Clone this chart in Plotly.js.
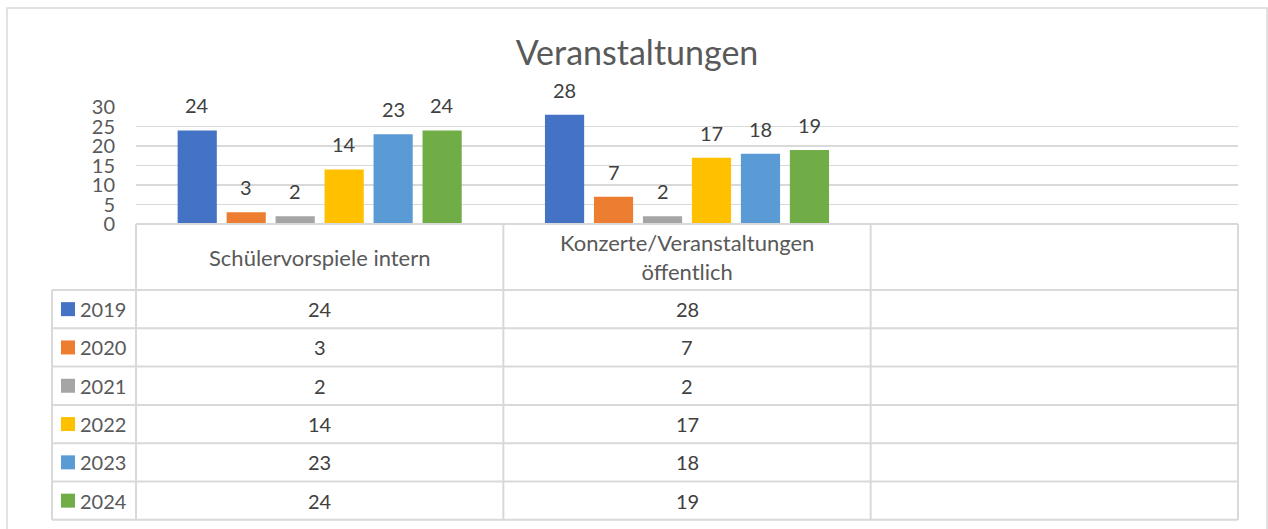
<!DOCTYPE html>
<html>
<head>
<meta charset="utf-8">
<script src="https://cdn.plot.ly/plotly-3.0.1.min.js"></script>
<style>html,body{margin:0;padding:0;background:#fff;}#chart{width:1268px;height:529px;}</style>
</head>
<body>
<div id="chart"></div>
<script>
// ---- data ----
const categories = ['Schülervorspiele intern', 'Konzerte/Veranstaltungen<br>öffentlich', ''];
const years = ['2019', '2020', '2021', '2022', '2023', '2024'];
const v2019 = [24, 28];
const v2020 = [3, 7];
const v2021 = [2, 2];
const v2022 = [14, 17];
const v2023 = [23, 18];
const v2024 = [24, 19];
const seriesValues = [v2019, v2020, v2021, v2022, v2023, v2024];
const colors = ['#4472C4', '#ED7D31', '#A5A5A5', '#FFC000', '#5B9BD5', '#70AD47'];
const yTicks = [0, 5, 10, 15, 20, 25, 30];

// ---- layout geometry (pixels) ----
const W = 1268, H = 529;
const plotL = 136, plotR = 1238, plotT = 107, plotB = 224;
const pw = plotR - plotL, ph = plotB - plotT;
const px = p => (p - plotL) / pw;      // pixel x -> paper
const py = p => (plotB - p) / ph;      // pixel y -> paper
const bargap = 0.2, bargroupgap = 0.2;
const nCat = categories.length;
const font = 'Lato, "Open Sans", sans-serif';
const grid = '#d9d9d9';

const traces = years.map((yr, i) => ({
  type: 'bar', name: yr,
  x: seriesValues[i].map((_, c) => c),
  y: seriesValues[i],
  marker: {color: colors[i], line: {width: 0}},
  hoverinfo: 'none'
}));

const shapes = [];
const annotations = [];

// chart border
shapes.push({type: 'rect', xref: 'paper', yref: 'paper',
  x0: px(7), x1: px(1267), y0: py(545), y1: py(8),
  line: {color: grid, width: 1.5}, fillcolor: 'rgba(0,0,0,0)', layer: 'below'});

// table geometry
const headerH = 66, rowH = 38.3;
const tableLeft = 52;
const tableBottom = plotB + headerH + rowH * years.length;
const colEdge = k => k / nCat; // paper x of category boundary k (0..nCat)

// horizontal lines
shapes.push({type: 'line', xref: 'paper', yref: 'paper', x0: 0, x1: 1, y0: 0, y1: 0, line: {color: grid, width: 2}});
for (let r = 0; r <= years.length; r++) {
  const yy = plotB + headerH + r * rowH;
  shapes.push({type: 'line', xref: 'paper', yref: 'paper', x0: px(tableLeft), x1: 1, y0: py(yy), y1: py(yy), line: {color: grid, width: 2}});
}
// vertical lines
shapes.push({type: 'line', xref: 'paper', yref: 'paper', x0: px(tableLeft), x1: px(tableLeft), y0: py(plotB + headerH), y1: py(tableBottom), line: {color: grid, width: 2}});
for (let k = 0; k <= nCat; k++) {
  shapes.push({type: 'line', xref: 'paper', yref: 'paper', x0: colEdge(k), x1: colEdge(k), y0: 0, y1: py(tableBottom), line: {color: grid, width: 2}});
}

// header text
categories.forEach((cat, c) => {
  if (!cat) return;
  annotations.push({xref: 'x', yref: 'paper', x: c, y: py(plotB + headerH / 2), text: cat,
    showarrow: false, xanchor: 'center', yanchor: 'middle', align: 'center',
    font: {family: font, size: 22, color: '#595959'}});
});

// rows: legend key + values
years.forEach((yr, i) => {
  const top = plotB + headerH + i * rowH;
  const mid = top + rowH / 2;
  shapes.push({type: 'rect', xref: 'paper', yref: 'paper', x0: px(61), x1: px(75), y0: py(mid - 7), y1: py(mid + 7),
    line: {width: 0}, fillcolor: colors[i]});
  annotations.push({xref: 'paper', yref: 'paper', x: px(78), y: py(mid), text: yr, showarrow: false,
    xanchor: 'left', yanchor: 'middle', font: {family: font, size: 20, color: '#595959'}});
  seriesValues[i].forEach((v, c) => {
    annotations.push({xref: 'x', yref: 'paper', x: c, y: py(mid), text: String(v), showarrow: false,
      xanchor: 'center', yanchor: 'middle', font: {family: font, size: 20, color: '#404040'}});
  });
});

// data labels above bars
const slot = (1 - bargap) / years.length;
years.forEach((yr, i) => {
  seriesValues[i].forEach((v, c) => {
    annotations.push({xref: 'x', yref: 'y', x: c - (1 - bargap) / 2 + (i + 0.5) * slot, y: v,
      text: String(v), showarrow: false, xanchor: 'center', yanchor: 'middle', yshift: 25,
      font: {family: font, size: 20, color: '#404040'}});
  });
});

const layout = {
  width: W, height: H,
  margin: {l: plotL, r: W - plotR, t: plotT, b: H - plotB, pad: 0},
  paper_bgcolor: '#fff', plot_bgcolor: '#fff',
  title: {text: 'Veranstaltungen', font: {family: font, size: 34, color: '#595959'},
    xref: 'container', yref: 'container', x: 637 / W, y: 1 - 53 / H, xanchor: 'center', yanchor: 'middle'},
  showlegend: false,
  barmode: 'group', bargap: bargap, bargroupgap: bargroupgap,
  xaxis: {range: [-0.5, nCat - 0.5], showticklabels: false, showgrid: false, zeroline: false, showline: false, ticks: '', fixedrange: true},
  yaxis: {range: [0, 30], tickvals: yTicks, showgrid: true, gridcolor: grid, gridwidth: 1.5, zeroline: false, showline: false,
    ticks: '', ticklabelstandoff: 20, tickfont: {family: font, size: 20, color: '#595959'}, fixedrange: true},
  shapes: shapes,
  annotations: annotations
};

Plotly.newPlot('chart', traces, layout, {displayModeBar: false, staticPlot: true});
</script>
</body>
</html>
